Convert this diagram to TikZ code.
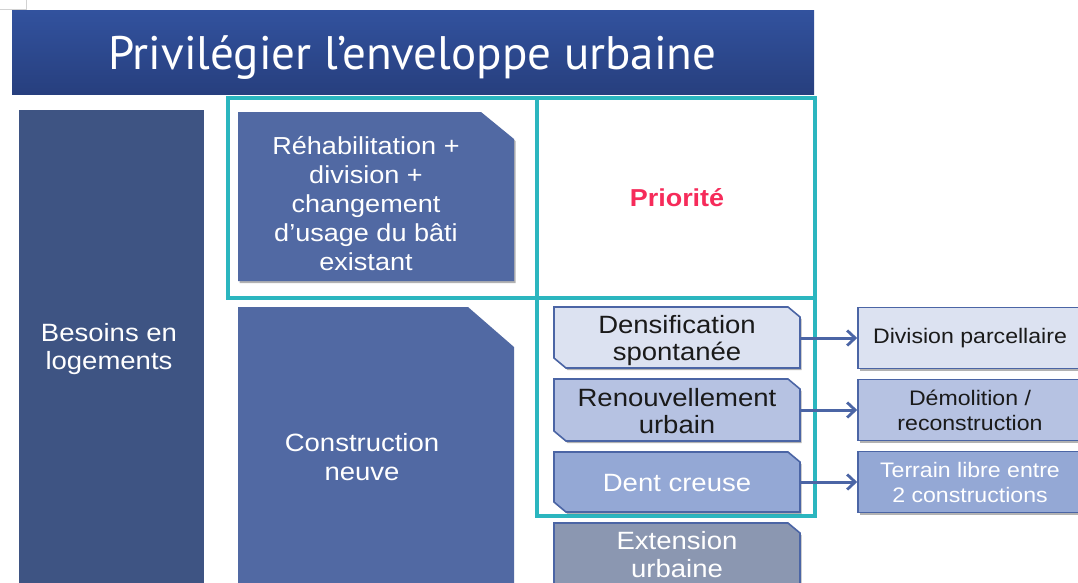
\documentclass[tikz,border=0pt]{standalone}
\usepackage{fontspec}
\setmainfont{Liberation Sans}[FakeStretch=1.1]
\newfontfamily\titlefont{PT Sans}
\usetikzlibrary{arrows.meta,shadows}
\definecolor{titletop}{HTML}{32529E}
\definecolor{titlebot}{HTML}{273F7E}
\definecolor{besoins}{HTML}{3E5483}
\definecolor{blk}{HTML}{5169A3}
\definecolor{tealc}{HTML}{2BB6BF}
\definecolor{prio}{HTML}{F62B5A}
\definecolor{bord}{HTML}{4B65A5}
\definecolor{cA}{HTML}{DCE2F1}
\definecolor{cB}{HTML}{B6C2E2}
\definecolor{cC}{HTML}{94A8D5}
\definecolor{cD}{HTML}{8B97B1}
\definecolor{txtdark}{HTML}{1A1A1A}
\newcommand\snipbox[5]{\filldraw[#1] (#2,#3) -- ({#4-12},#3) -- (#4,{#3+10}) -- (#4,#5) -- ({#2+12},#5) -- (#2,{#5-10}) -- cycle;}
\tikzset{
  shad/.style={drop shadow={shadow xshift=1.5pt,shadow yshift=-2pt,opacity=0.3,fill=black}},
  bigtxt/.style={align=center,inner sep=0pt,text=white,font=\fontsize{25}{28.5}\selectfont},
  lbox/.style={minimum width=246pt,minimum height=61pt,inner sep=0pt,align=center,font=\fontsize{25}{27.5}\selectfont},
  rbox/.style={shad,draw=bord,line width=1.6pt,minimum width=224pt,minimum height=61pt,inner sep=0pt,align=center,font=\fontsize{21}{25}\selectfont},
  arr/.style={draw=bord,line width=3pt,-{Straight Barb[length=8pt,width=15pt,line width=2.8pt]}},
  snip/.style={shad,draw=bord,line width=1.6pt}
}
\begin{document}
\begin{tikzpicture}[x=1pt,y=-1pt]
\useasboundingbox (0,0) rectangle (1078,582);
\fill[white] (0,0) rectangle (1078,582);
% corner artifact
\draw[gray!35,line width=0.8pt] (0,9) -- (26,9) -- (26,0);
% title
\shade[top color=titletop,bottom color=titlebot] (12,10) rectangle (814,94);
\node[anchor=base west,text=white,inner sep=0pt] (title) at (108,69) {\resizebox{608pt}{!}{\titlefont Privilégier l’enveloppe urbaine}};
% besoins column
\fill[besoins] (19,110) rectangle (204,595);
\node[bigtxt] (besoins) at (109,349) {Besoins en\\logements};
% rehab and construction blocks
\fill[blk,shad] (238,112) -- (481,112) -- (514,139) -- (514,281) -- (238,281) -- cycle;
\node[bigtxt,font=\fontsize{24.6}{29}\selectfont] (rehab) at (366,204) {Réhabilitation +\\division +\\changement\\d’usage du bâti\\existant};
\fill[blk] (238,307) -- (468,307) -- (514,347) -- (514,595) -- (238,595) -- cycle;
\node[bigtxt] (constr) at (362,457) {Construction\\neuve};
% teal frames
\draw[tealc,line width=4pt] (228,98) rectangle (815,298);
\draw[tealc,line width=4pt] (536.5,98) -- (536.5,298);
\draw[tealc,line width=4pt] (536.5,298) rectangle (815,516);
\node[text=prio,font=\fontsize{24.5}{27}\selectfont\bfseries] (prio) at (677,198) {Priorité};
% left small boxes
\snipbox{snip,fill=cA}{554}{307}{800}{368}
\node[lbox,text=txtdark] (dens) at (677,340.5) {Densification\\spontanée};
\snipbox{snip,fill=cB}{554}{379}{800}{441}
\node[lbox,text=txtdark] (renouv) at (677,411) {Renouvellement\\urbain};
\snipbox{snip,fill=cC}{554}{452}{800}{512}
\node[lbox,text=white] (dent) at (677,483) {Dent creuse};
\snipbox{snip,fill=cD}{554}{523}{800}{595}
\node[lbox,text=white] (ext) at (677,554.5) {Extension\\urbaine};
% right boxes
\node[rbox,fill=cA,text=txtdark] (div) at (970,338) {Division parcellaire};
\node[rbox,fill=cB,text=txtdark] (demo) at (970,410) {Démolition /\\reconstruction};
\node[rbox,fill=cC,text=white] (terr) at (970,482) {Terrain libre entre\\2 constructions};
% arrows
\draw[arr] (dens.east|-div.west) -- (div.west);
\draw[arr] (renouv.east|-demo.west) -- (demo.west);
\draw[arr] (dent.east|-terr.west) -- (terr.west);
\end{tikzpicture}
\end{document}
